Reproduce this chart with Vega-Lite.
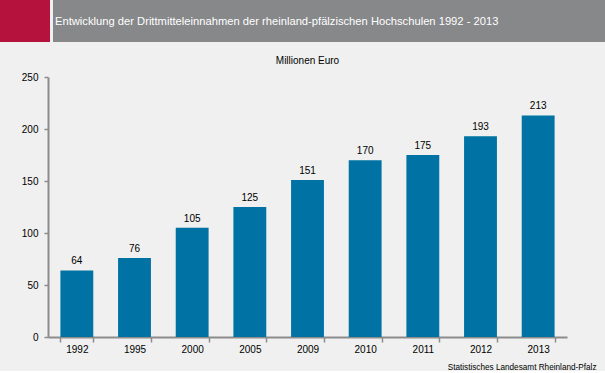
{
  "$schema": "https://vega.github.io/schema/vega-lite/v6.json",
  "padding": 0,
  "background": "#EFF0EF",
  "spacing": 14,
  "config": {
    "view": {"stroke": null},
    "font": "Liberation Sans"
  },
  "vconcat": [
    {
      "hconcat": [
        {
          "width": 50,
          "height": 42,
          "view": {"fill": "#B5123E", "stroke": null},
          "data": {"values": [{"t": ""}]},
          "mark": {"type": "text"},
          "encoding": {"text": {"field": "t"}}
        },
        {
          "width": 552,
          "height": 42,
          "view": {"fill": "#87888A", "stroke": null},
          "title": {
            "text": "Entwicklung der Drittmitteleinnahmen der rheinland-pfälzischen Hochschulen 1992 - 2013",
            "anchor": "start",
            "frame": "group",
            "orient": "top",
            "offset": -33,
            "baseline": "middle",
            "dx": 2,
            "color": "#FFFFFF",
            "fontSize": 11.2,
            "fontWeight": "normal",
            "font": "Liberation Sans"
          },
          "data": {"values": [{"t": ""}]},
          "mark": {"type": "text"},
          "encoding": {"text": {"field": "t"}}
        }
      ],
      "spacing": 3
    },
    {
      "spacing": 0,
      "hconcat": [
        {
          "width": 10,
          "height": 260,
          "data": {"values": [{"t": ""}]},
          "mark": {"type": "text"},
          "encoding": {"text": {"field": "t"}}
        },
        {
          "width": 519,
          "height": 260,
          "title": {
            "text": "Millionen Euro",
            "fontSize": 10,
            "fontWeight": "normal",
            "color": "#000000",
            "offset": 6,
            "anchor": "middle"
          },
          "data": {
            "values": [
              {"Jahr": "1992", "Wert": 64},
              {"Jahr": "1995", "Wert": 76},
              {"Jahr": "2000", "Wert": 105},
              {"Jahr": "2005", "Wert": 125},
              {"Jahr": "2009", "Wert": 151},
              {"Jahr": "2010", "Wert": 170},
              {"Jahr": "2011", "Wert": 175},
              {"Jahr": "2012", "Wert": 193},
              {"Jahr": "2013", "Wert": 213}
            ]
          },
          "encoding": {
            "x": {
              "field": "Jahr",
              "type": "nominal",
              "sort": null,
              "scale": {"paddingInner": 0.43, "paddingOuter": 0.215},
              "axis": {
                "title": "Statistisches Landesamt Rheinland-Pfalz",
                "titleX": 548,
                "titleY": 30,
                "titleAlign": "right",
                "titleBaseline": "middle",
                "titleFontSize": 8.2,
                "titleFontWeight": "normal",
                "titleColor": "#000000",
                "labelAngle": 0,
                "labelFontSize": 10,
                "labelColor": "#000000",
                "labelPadding": 2,
                "tickBand": "extent",
                "tickSize": 5,
                "tickColor": "#8C8C8C",
                "tickWidth": 1.5,
                "domainColor": "#8C8C8C",
                "domainWidth": 2
              }
            },
            "y": {
              "field": "Wert",
              "type": "quantitative",
              "scale": {"domain": [0, 250]},
              "axis": {
                "title": null,
                "values": [0, 50, 100, 150, 200, 250],
                "grid": false,
                "labelFontSize": 10,
                "labelColor": "#000000",
                "labelPadding": 6,
                "tickSize": 4,
                "tickColor": "#8C8C8C",
                "tickWidth": 1.5,
                "domainColor": "#8C8C8C",
                "domainWidth": 2,
                "minExtent": 38,
                "maxExtent": 38
              }
            }
          },
          "layer": [
            {"mark": {"type": "bar", "color": "#0072A3"}},
            {
              "mark": {"type": "text", "baseline": "bottom", "dy": -4, "fontSize": 10, "color": "#000000"},
              "encoding": {"text": {"field": "Wert", "type": "quantitative"}}
            }
          ]
        }
      ]
    }
  ]
}
